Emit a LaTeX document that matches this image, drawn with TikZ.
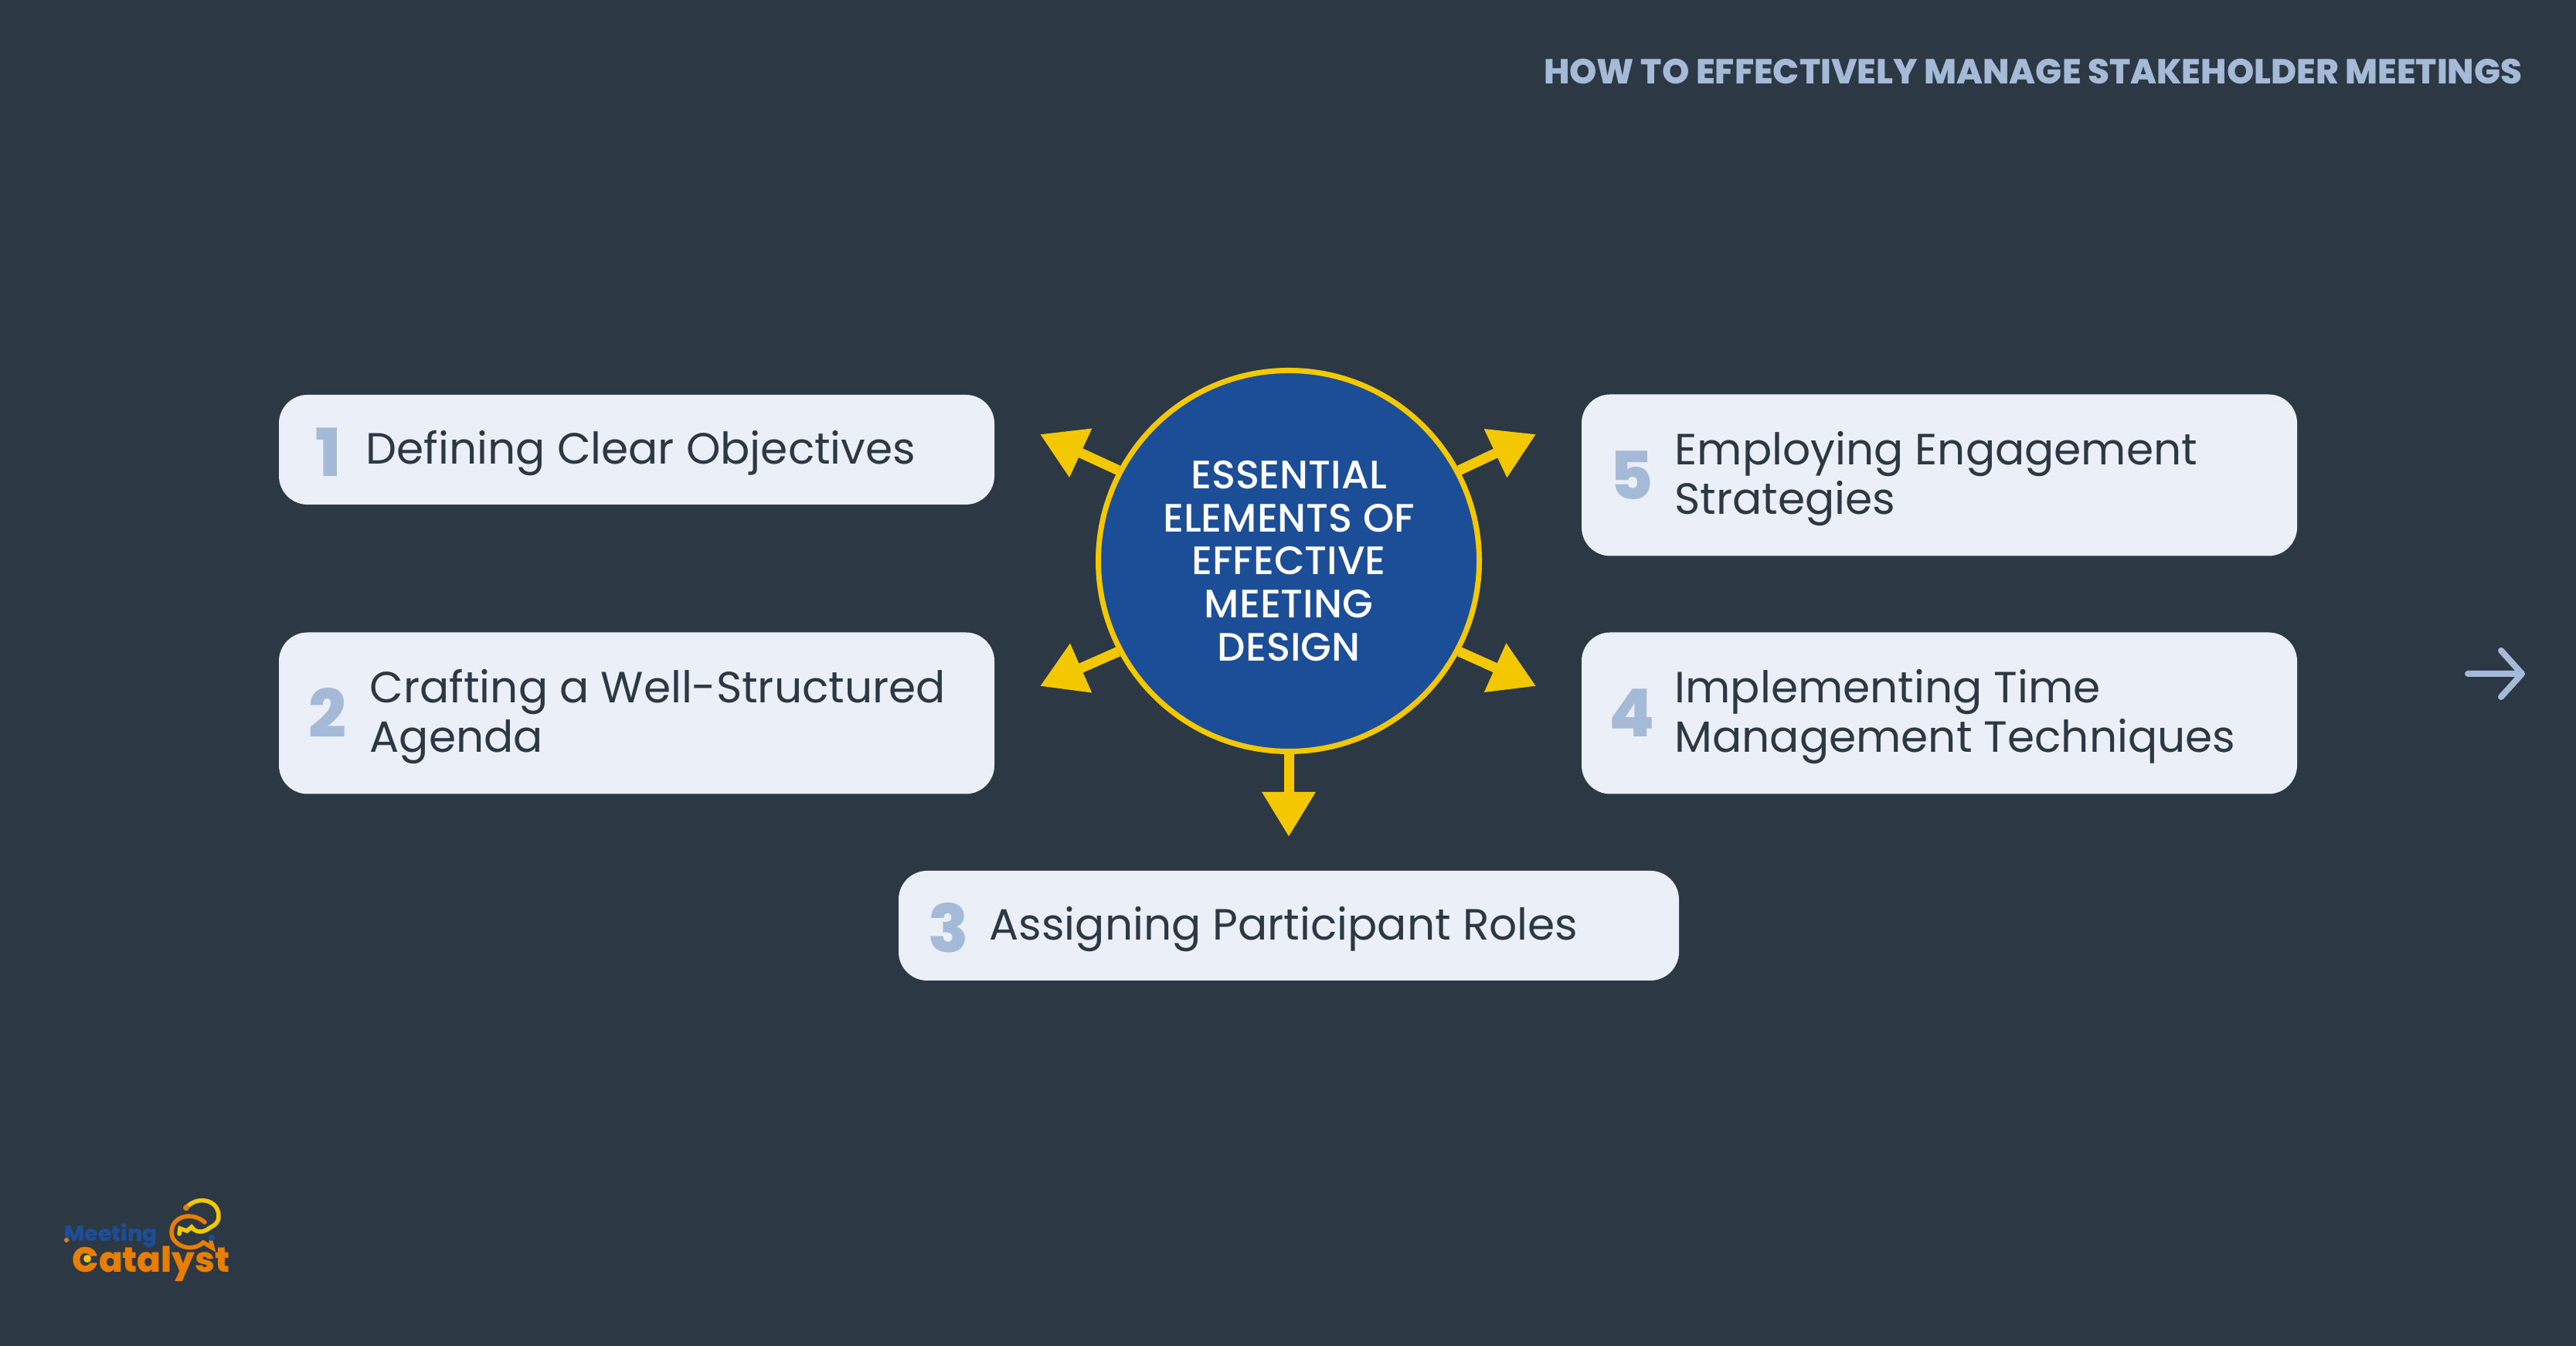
\documentclass[tikz,border=0pt]{standalone}
\usepackage{xcolor}
\usepackage{tikz}
\usepackage{fontspec}
\setmainfont{Poppins}
\newfontfamily\heavyfont{Poppins ExtraBold}
\newfontfamily\mediumfont{Poppins Medium}
\definecolor{slatebg}{RGB}{45, 56, 69}
\definecolor{hubblue}{RGB}{28, 78, 151}
\definecolor{accentyellow}{RGB}{244, 200, 0}
\definecolor{logoorange}{RGB}{232, 126, 0}
\definecolor{paleblue}{RGB}{234, 239, 248}
\definecolor{steelblue}{RGB}{165, 186, 214}
\usetikzlibrary{arrows.meta}

\begin{document}
\begin{tikzpicture}[
    itembox/.style={rectangle, fill=paleblue, rounded corners=0.37cm, minimum width=9.26cm, minimum height=1.42cm, inner sep=0pt},
    tallbox/.style={itembox, minimum height=2.09cm},
    itemtext/.style={anchor=west, align=left, inner sep=0pt, text=slatebg, font=\fontsize{16.1}{18.2}\selectfont},
    itemnum/.style={inner sep=0pt, text=steelblue, font=\fontsize{24.4}{26}\heavyfont},
    spoke/.style={draw=accentyellow, line width=0.13cm, -{Triangle[width=0.66cm, length=0.58cm]}},
    logoline/.style={line width=0.055cm, line cap=round},
]
    % Background
    \fill[slatebg] (0, 0) rectangle (33.34, 17.42);
    \useasboundingbox (0, 0) rectangle (33.34, 17.42);

    % Header
    \node[inner sep=0pt, anchor=base east, text=steelblue, font=\fontsize{12.8}{15}\heavyfont] (header) at (32.65, 16.33) {HOW TO EFFECTIVELY MANAGE STAKEHOLDER MEETINGS};

    % Left column
    \node[itembox] (boxone) at (8.24, 11.60) {};
    \node[itemnum] (numone) at (4.25, 11.57) {1};
    \node[itemtext] (textone) at (4.73, 11.55) {Defining Clear Objectives};
    \node[tallbox] (boxtwo) at (8.24, 8.19) {};
    \node[itemnum] (numtwo) at (4.24, 8.19) {2};
    \node[itemtext] (texttwo) at (4.78, 8.14) {Crafting a Well-Structured\\Agenda};

    % Bottom
    \node[itembox, minimum width=10.10cm] (boxthree) at (16.68, 5.44) {};
    \node[itemnum] (numthree) at (12.28, 5.41) {3};
    \node[itemtext] (textthree) at (12.80, 5.39) {Assigning Participant Roles};

    % Right column
    \node[tallbox] (boxfour) at (25.10, 8.19) {};
    \node[itemnum] (numfour) at (21.12, 8.19) {4};
    \node[itemtext] (textfour) at (21.67, 8.14) {Implementing Time\\Management Techniques};
    \node[tallbox] (boxfive) at (25.10, 11.27) {};
    \node[itemnum] (numfive) at (21.12, 11.27) {5};
    \node[itemtext] (textfive) at (21.67, 11.22) {Employing Engagement\\Strategies};

    % Spoke tips
    \coordinate (tipone) at (13.46, 11.80);
    \coordinate (tiptwo) at (13.46, 8.54);
    \coordinate (tipthree) at (16.68, 6.59);
    \coordinate (tipfour) at (19.88, 8.54);
    \coordinate (tipfive) at (19.88, 11.80);

    % Hub
    \node[circle, fill=hubblue, draw=accentyellow, line width=0.07cm, minimum size=4.93cm, inner sep=0pt, align=center, text=white, font=\fontsize{14.6}{15.85}\mediumfont] (hub) at (16.68, 10.16) {ESSENTIAL\\ELEMENTS OF\\EFFECTIVE\\MEETING\\DESIGN};

    % Spokes
    \draw[spoke] (hub.152) -- (tipone);
    \draw[spoke] (hub.208) -- (tiptwo);
    \draw[spoke] (hub.south) -- (tipthree);
    \draw[spoke] (hub.332) -- (tipfour);
    \draw[spoke] (hub.28) -- (tipfive);

    % Next arrow
    \draw[steelblue, line width=0.08cm, line cap=round, line join=round] (31.94, 8.70) -- (32.64, 8.70) (32.37, 9.00) -- (32.64, 8.70) -- (32.37, 8.40);

    % Logo
    \node[inner sep=0pt, anchor=base west, text=hubblue, font=\fontsize{8}{9}\heavyfont] (logotop) at (0.83, 1.35) {Meeting};
    \node[inner sep=0pt, anchor=base west, text=logoorange, font=\fontsize{12.9}{16}\heavyfont] (logobottom) at (0.93, 0.95) {Catalyst};
    \fill[accentyellow] (1.13, 1.13) circle (0.05);
    \fill[logoorange] (0.86, 1.37) circle (0.03);
    \draw[logoline, accentyellow] (2.41, 1.79) .. controls (2.55, 1.95) and (2.83, 1.90) .. (2.83, 1.68) .. controls (2.83, 1.60) and (2.78, 1.56) .. (2.73, 1.54);
    \fill[logoorange] (2.41, 1.79) circle (0.04);
    \draw[logoline, logoorange] (2.65, 1.60) .. controls (2.48, 1.75) and (2.22, 1.68) .. (2.22, 1.47) .. controls (2.22, 1.30) and (2.48, 1.20) .. (2.63, 1.34) -- (2.75, 1.27) -- (2.73, 1.35);
    \draw[logoline, accentyellow] (2.32, 1.45) -- (2.33, 1.52) -- (2.42, 1.49) -- (2.48, 1.54) .. controls (2.53, 1.47) and (2.62, 1.45) .. (2.73, 1.54);
    \fill[hubblue] (2.74, 1.40) circle (0.04);
\end{tikzpicture}
\end{document}
